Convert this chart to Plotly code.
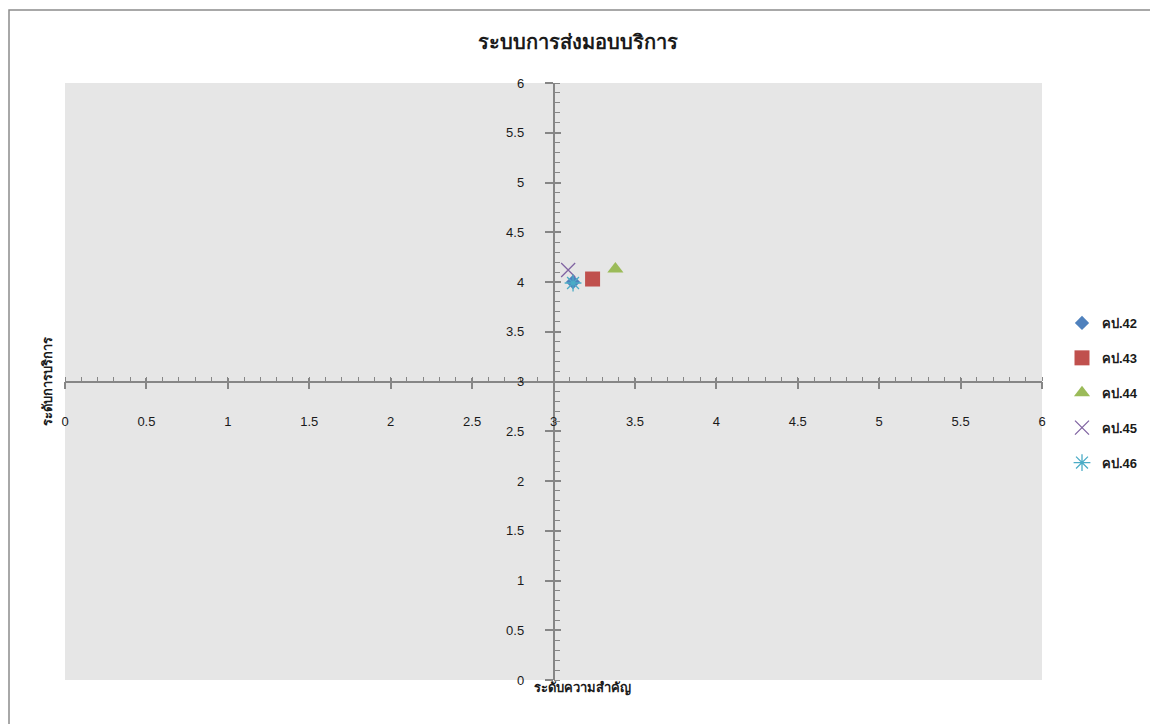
import plotly.graph_objects as go

# ---- data ----
series_names = ["คป.42", "คป.43", "คป.44", "คป.45", "คป.46"]
x_importance = [3.12, 3.24, 3.38, 3.09, 3.12]
y_service = [4.00, 4.03, 4.13, 4.12, 3.99]
chart_title = "ระบบการส่งมอบบริการ"
x_title = "ระดับความสำคัญ"
y_title = "ระดับการบริการ"

colors = ["#4F81BD", "#C0504D", "#9BBB59", "#8064A2", "#4BACC6"]
symbols = ["diamond", "square", "triangle-up", "x-thin-open", "asterisk-open"]
sizes = [11, 15, 14, 14, 14]

# page has an 8px body margin; figure occupies page pixels 8..1158 x 8..724
OFF = 8
W, H = 1158 - OFF, 724 - OFF
# plot area in page pixels: x 65..1042, y 83..680
L, T = 65 - OFF, 83 - OFF
pw, ph = 1042 - 65, 680 - 83
R, B = W - L - pw, H - T - ph

def px_x(p):  # page pixel -> paper x
    return (p - 65) / pw

def px_y(p):  # page pixel -> paper y
    return (680 - p) / ph

fig = go.Figure()
for i, name in enumerate(series_names):
    open_sym = symbols[i].endswith("open")
    fig.add_trace(go.Scatter(
        x=[x_importance[i]], y=[y_service[i]], mode="markers", name=name,
        legendgroup=name,
        marker=dict(symbol=symbols[i], size=sizes[i], color=colors[i],
                    line=dict(color=colors[i], width=1.3 if open_sym else 0)),
    ))

# invisible helper trace on overlay axes (for inner half of major ticks)
fig.add_trace(go.Scatter(x=x_importance[:1], y=y_service[:1], xaxis="x2", yaxis="y2",
                         mode="markers", marker=dict(opacity=0), showlegend=False,
                         hoverinfo="skip"))

axis_col = "#868686"
tick_font = dict(family="Liberation Sans, DejaVu Sans, sans-serif", size=13, color="#1a1a1a")

fig.update_layout(
    width=W, height=H,
    margin=dict(l=L, r=R, t=T, b=B),
    paper_bgcolor="white", plot_bgcolor="#E6E6E6",
    showlegend=True,
    title=dict(text="<b>" + chart_title + "</b>", x=(578 - OFF) / W, xanchor="center",
               y=1 - (42 - OFF) / H, yanchor="middle",
               font=dict(family="Tahoma, DejaVu Sans, sans-serif", size=20, color="#1a1a1a")),
    legend=dict(x=px_x(1062), xanchor="left", y=px_y(393), yanchor="middle",
                font=dict(family="Liberation Sans, DejaVu Sans, sans-serif", size=13,
                          color="#1a1a1a", weight="bold"),
                tracegroupgap=15, bgcolor="rgba(0,0,0,0)"),
    xaxis=dict(range=[0, 6], domain=[0, 1], anchor="free", position=0.5,
               dtick=0.5, tick0=0, showgrid=False, zeroline=False,
               showline=True, linecolor=axis_col, linewidth=1.5,
               ticks="outside", ticklen=7, tickwidth=1.5, tickcolor=axis_col,
               minor=dict(dtick=0.1, ticks="inside", ticklen=4, tickwidth=1, tickcolor=axis_col),
               tickfont=tick_font, ticklabelstandoff=21),
    yaxis=dict(range=[0, 6], domain=[0, 1], anchor="free", position=0.5,
               dtick=0.5, tick0=0, showgrid=False, zeroline=False,
               showline=True, linecolor=axis_col, linewidth=1.5,
               ticks="outside", ticklen=8, tickwidth=1.5, tickcolor=axis_col,
               minor=dict(dtick=0.1, ticks="inside", ticklen=6, tickwidth=1, tickcolor=axis_col),
               tickfont=tick_font, ticklabelstandoff=18),
    xaxis2=dict(range=[0, 6], overlaying="x", anchor="free", position=0.5,
                dtick=0.5, tick0=0, showgrid=False, zeroline=False, showline=False,
                ticks="inside", ticklen=4, tickwidth=1.5, tickcolor=axis_col,
                showticklabels=False),
    yaxis2=dict(range=[0, 6], overlaying="y", anchor="free", position=0.5,
                dtick=0.5, tick0=0, showgrid=False, zeroline=False, showline=False,
                ticks="inside", ticklen=6, tickwidth=1.5, tickcolor=axis_col,
                showticklabels=False),
    annotations=[
        dict(text="<b>" + x_title + "</b>", xref="paper", yref="paper",
             x=px_x(532), xanchor="left", y=px_y(688), yanchor="middle", showarrow=False,
             font=dict(family="Tahoma, DejaVu Sans, sans-serif", size=13, color="#1a1a1a")),
        dict(text="<b>" + y_title + "</b>", xref="paper", yref="paper",
             x=px_x(47), xanchor="center", y=px_y(382), yanchor="middle", showarrow=False,
             textangle=-90,
             font=dict(family="Tahoma, DejaVu Sans, sans-serif", size=13, color="#1a1a1a")),
    ],
    shapes=[dict(type="rect", xref="paper", yref="paper",
                 x0=px_x(9), x1=px_x(1152), y0=px_y(740), y1=px_y(10),
                 line=dict(color="#8C8C8C", width=1.5), fillcolor="rgba(0,0,0,0)",
                 layer="below")],
)

fig.write_html("out.html")
